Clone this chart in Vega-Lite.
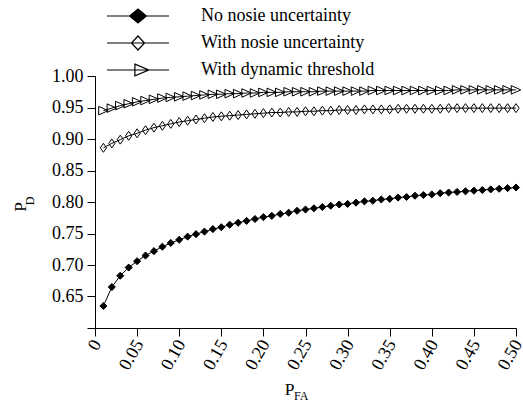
{
  "$schema": "https://vega.github.io/schema/vega-lite/v6.json",
  "width": 421,
  "height": 252,
  "autosize": {"type": "none"},
  "padding": {"left": 95, "top": 76, "right": 7, "bottom": 74},
  "background": "white",
  "config": {
    "view": {"stroke": null},
    "font": "Liberation Serif",
    "axis": {
      "domainColor": "black", "domainWidth": 1, "tickColor": "black", "tickSize": 8, "tickWidth": 1,
      "labelFont": "Liberation Serif", "labelFontSize": 18, "labelColor": "black",
      "titleFont": "Liberation Serif", "titleFontSize": 18, "titleFontWeight": "normal", "titleColor": "black",
      "grid": false, "labelFlush": false, "labelOverlap": false, "labelBound": false
    },
    "legend": {
      "orient": "none", "legendX": 11, "legendY": -68, "padding": 0,
      "symbolSize": 3844, "symbolStrokeWidth": 1.2,
      "labelFont": "Liberation Serif", "labelFontSize": 18, "labelColor": "black", "labelLimit": 400,
      "labelOffset": 31, "rowPadding": 9, "clipHeight": 16, "titlePadding": 0
    }
  },
  "datasets": {
    "curves": [
      {"x": 0.01, "y": 0.635, "s": "No nosie uncertainty"},
      {"x": 0.02, "y": 0.665, "s": "No nosie uncertainty"},
      {"x": 0.03, "y": 0.683, "s": "No nosie uncertainty"},
      {"x": 0.04, "y": 0.696, "s": "No nosie uncertainty"},
      {"x": 0.05, "y": 0.706, "s": "No nosie uncertainty"},
      {"x": 0.06, "y": 0.715, "s": "No nosie uncertainty"},
      {"x": 0.07, "y": 0.722, "s": "No nosie uncertainty"},
      {"x": 0.08, "y": 0.729, "s": "No nosie uncertainty"},
      {"x": 0.09, "y": 0.735, "s": "No nosie uncertainty"},
      {"x": 0.10, "y": 0.740, "s": "No nosie uncertainty"},
      {"x": 0.11, "y": 0.745, "s": "No nosie uncertainty"},
      {"x": 0.12, "y": 0.749, "s": "No nosie uncertainty"},
      {"x": 0.13, "y": 0.753, "s": "No nosie uncertainty"},
      {"x": 0.14, "y": 0.757, "s": "No nosie uncertainty"},
      {"x": 0.15, "y": 0.760, "s": "No nosie uncertainty"},
      {"x": 0.16, "y": 0.764, "s": "No nosie uncertainty"},
      {"x": 0.17, "y": 0.767, "s": "No nosie uncertainty"},
      {"x": 0.18, "y": 0.770, "s": "No nosie uncertainty"},
      {"x": 0.19, "y": 0.773, "s": "No nosie uncertainty"},
      {"x": 0.20, "y": 0.776, "s": "No nosie uncertainty"},
      {"x": 0.21, "y": 0.778, "s": "No nosie uncertainty"},
      {"x": 0.22, "y": 0.781, "s": "No nosie uncertainty"},
      {"x": 0.23, "y": 0.783, "s": "No nosie uncertainty"},
      {"x": 0.24, "y": 0.786, "s": "No nosie uncertainty"},
      {"x": 0.25, "y": 0.788, "s": "No nosie uncertainty"},
      {"x": 0.26, "y": 0.790, "s": "No nosie uncertainty"},
      {"x": 0.27, "y": 0.792, "s": "No nosie uncertainty"},
      {"x": 0.28, "y": 0.794, "s": "No nosie uncertainty"},
      {"x": 0.29, "y": 0.796, "s": "No nosie uncertainty"},
      {"x": 0.30, "y": 0.797, "s": "No nosie uncertainty"},
      {"x": 0.31, "y": 0.799, "s": "No nosie uncertainty"},
      {"x": 0.32, "y": 0.801, "s": "No nosie uncertainty"},
      {"x": 0.33, "y": 0.802, "s": "No nosie uncertainty"},
      {"x": 0.34, "y": 0.804, "s": "No nosie uncertainty"},
      {"x": 0.35, "y": 0.805, "s": "No nosie uncertainty"},
      {"x": 0.36, "y": 0.807, "s": "No nosie uncertainty"},
      {"x": 0.37, "y": 0.808, "s": "No nosie uncertainty"},
      {"x": 0.38, "y": 0.810, "s": "No nosie uncertainty"},
      {"x": 0.39, "y": 0.811, "s": "No nosie uncertainty"},
      {"x": 0.40, "y": 0.812, "s": "No nosie uncertainty"},
      {"x": 0.41, "y": 0.814, "s": "No nosie uncertainty"},
      {"x": 0.42, "y": 0.815, "s": "No nosie uncertainty"},
      {"x": 0.43, "y": 0.816, "s": "No nosie uncertainty"},
      {"x": 0.44, "y": 0.817, "s": "No nosie uncertainty"},
      {"x": 0.45, "y": 0.818, "s": "No nosie uncertainty"},
      {"x": 0.46, "y": 0.819, "s": "No nosie uncertainty"},
      {"x": 0.47, "y": 0.820, "s": "No nosie uncertainty"},
      {"x": 0.48, "y": 0.821, "s": "No nosie uncertainty"},
      {"x": 0.49, "y": 0.822, "s": "No nosie uncertainty"},
      {"x": 0.50, "y": 0.823, "s": "No nosie uncertainty"},
      {"x": 0.01, "y": 0.886, "s": "With nosie uncertainty"},
      {"x": 0.02, "y": 0.893, "s": "With nosie uncertainty"},
      {"x": 0.03, "y": 0.899, "s": "With nosie uncertainty"},
      {"x": 0.04, "y": 0.905, "s": "With nosie uncertainty"},
      {"x": 0.05, "y": 0.909, "s": "With nosie uncertainty"},
      {"x": 0.06, "y": 0.914, "s": "With nosie uncertainty"},
      {"x": 0.07, "y": 0.918, "s": "With nosie uncertainty"},
      {"x": 0.08, "y": 0.921, "s": "With nosie uncertainty"},
      {"x": 0.09, "y": 0.924, "s": "With nosie uncertainty"},
      {"x": 0.10, "y": 0.927, "s": "With nosie uncertainty"},
      {"x": 0.11, "y": 0.929, "s": "With nosie uncertainty"},
      {"x": 0.12, "y": 0.931, "s": "With nosie uncertainty"},
      {"x": 0.13, "y": 0.933, "s": "With nosie uncertainty"},
      {"x": 0.14, "y": 0.935, "s": "With nosie uncertainty"},
      {"x": 0.15, "y": 0.936, "s": "With nosie uncertainty"},
      {"x": 0.16, "y": 0.937, "s": "With nosie uncertainty"},
      {"x": 0.17, "y": 0.938, "s": "With nosie uncertainty"},
      {"x": 0.18, "y": 0.939, "s": "With nosie uncertainty"},
      {"x": 0.19, "y": 0.940, "s": "With nosie uncertainty"},
      {"x": 0.20, "y": 0.941, "s": "With nosie uncertainty"},
      {"x": 0.21, "y": 0.942, "s": "With nosie uncertainty"},
      {"x": 0.22, "y": 0.942, "s": "With nosie uncertainty"},
      {"x": 0.23, "y": 0.943, "s": "With nosie uncertainty"},
      {"x": 0.24, "y": 0.943, "s": "With nosie uncertainty"},
      {"x": 0.25, "y": 0.944, "s": "With nosie uncertainty"},
      {"x": 0.26, "y": 0.944, "s": "With nosie uncertainty"},
      {"x": 0.27, "y": 0.945, "s": "With nosie uncertainty"},
      {"x": 0.28, "y": 0.945, "s": "With nosie uncertainty"},
      {"x": 0.29, "y": 0.946, "s": "With nosie uncertainty"},
      {"x": 0.30, "y": 0.946, "s": "With nosie uncertainty"},
      {"x": 0.31, "y": 0.946, "s": "With nosie uncertainty"},
      {"x": 0.32, "y": 0.947, "s": "With nosie uncertainty"},
      {"x": 0.33, "y": 0.947, "s": "With nosie uncertainty"},
      {"x": 0.34, "y": 0.947, "s": "With nosie uncertainty"},
      {"x": 0.35, "y": 0.947, "s": "With nosie uncertainty"},
      {"x": 0.36, "y": 0.948, "s": "With nosie uncertainty"},
      {"x": 0.37, "y": 0.948, "s": "With nosie uncertainty"},
      {"x": 0.38, "y": 0.948, "s": "With nosie uncertainty"},
      {"x": 0.39, "y": 0.948, "s": "With nosie uncertainty"},
      {"x": 0.40, "y": 0.948, "s": "With nosie uncertainty"},
      {"x": 0.41, "y": 0.948, "s": "With nosie uncertainty"},
      {"x": 0.42, "y": 0.949, "s": "With nosie uncertainty"},
      {"x": 0.43, "y": 0.949, "s": "With nosie uncertainty"},
      {"x": 0.44, "y": 0.949, "s": "With nosie uncertainty"},
      {"x": 0.45, "y": 0.949, "s": "With nosie uncertainty"},
      {"x": 0.46, "y": 0.949, "s": "With nosie uncertainty"},
      {"x": 0.47, "y": 0.949, "s": "With nosie uncertainty"},
      {"x": 0.48, "y": 0.949, "s": "With nosie uncertainty"},
      {"x": 0.49, "y": 0.949, "s": "With nosie uncertainty"},
      {"x": 0.50, "y": 0.949, "s": "With nosie uncertainty"},
      {"x": 0.01, "y": 0.945, "s": "With dynamic threshold"},
      {"x": 0.02, "y": 0.949, "s": "With dynamic threshold"},
      {"x": 0.03, "y": 0.953, "s": "With dynamic threshold"},
      {"x": 0.04, "y": 0.956, "s": "With dynamic threshold"},
      {"x": 0.05, "y": 0.959, "s": "With dynamic threshold"},
      {"x": 0.06, "y": 0.961, "s": "With dynamic threshold"},
      {"x": 0.07, "y": 0.963, "s": "With dynamic threshold"},
      {"x": 0.08, "y": 0.965, "s": "With dynamic threshold"},
      {"x": 0.09, "y": 0.966, "s": "With dynamic threshold"},
      {"x": 0.10, "y": 0.967, "s": "With dynamic threshold"},
      {"x": 0.11, "y": 0.968, "s": "With dynamic threshold"},
      {"x": 0.12, "y": 0.969, "s": "With dynamic threshold"},
      {"x": 0.13, "y": 0.970, "s": "With dynamic threshold"},
      {"x": 0.14, "y": 0.971, "s": "With dynamic threshold"},
      {"x": 0.15, "y": 0.971, "s": "With dynamic threshold"},
      {"x": 0.16, "y": 0.972, "s": "With dynamic threshold"},
      {"x": 0.17, "y": 0.972, "s": "With dynamic threshold"},
      {"x": 0.18, "y": 0.973, "s": "With dynamic threshold"},
      {"x": 0.19, "y": 0.973, "s": "With dynamic threshold"},
      {"x": 0.20, "y": 0.974, "s": "With dynamic threshold"},
      {"x": 0.21, "y": 0.974, "s": "With dynamic threshold"},
      {"x": 0.22, "y": 0.974, "s": "With dynamic threshold"},
      {"x": 0.23, "y": 0.975, "s": "With dynamic threshold"},
      {"x": 0.24, "y": 0.975, "s": "With dynamic threshold"},
      {"x": 0.25, "y": 0.975, "s": "With dynamic threshold"},
      {"x": 0.26, "y": 0.975, "s": "With dynamic threshold"},
      {"x": 0.27, "y": 0.976, "s": "With dynamic threshold"},
      {"x": 0.28, "y": 0.976, "s": "With dynamic threshold"},
      {"x": 0.29, "y": 0.976, "s": "With dynamic threshold"},
      {"x": 0.30, "y": 0.976, "s": "With dynamic threshold"},
      {"x": 0.31, "y": 0.976, "s": "With dynamic threshold"},
      {"x": 0.32, "y": 0.976, "s": "With dynamic threshold"},
      {"x": 0.33, "y": 0.977, "s": "With dynamic threshold"},
      {"x": 0.34, "y": 0.977, "s": "With dynamic threshold"},
      {"x": 0.35, "y": 0.977, "s": "With dynamic threshold"},
      {"x": 0.36, "y": 0.977, "s": "With dynamic threshold"},
      {"x": 0.37, "y": 0.977, "s": "With dynamic threshold"},
      {"x": 0.38, "y": 0.977, "s": "With dynamic threshold"},
      {"x": 0.39, "y": 0.977, "s": "With dynamic threshold"},
      {"x": 0.40, "y": 0.977, "s": "With dynamic threshold"},
      {"x": 0.41, "y": 0.977, "s": "With dynamic threshold"},
      {"x": 0.42, "y": 0.977, "s": "With dynamic threshold"},
      {"x": 0.43, "y": 0.978, "s": "With dynamic threshold"},
      {"x": 0.44, "y": 0.978, "s": "With dynamic threshold"},
      {"x": 0.45, "y": 0.978, "s": "With dynamic threshold"},
      {"x": 0.46, "y": 0.978, "s": "With dynamic threshold"},
      {"x": 0.47, "y": 0.978, "s": "With dynamic threshold"},
      {"x": 0.48, "y": 0.978, "s": "With dynamic threshold"},
      {"x": 0.49, "y": 0.978, "s": "With dynamic threshold"},
      {"x": 0.50, "y": 0.978, "s": "With dynamic threshold"}
    ]
  },
  "layer": [
    {
      "data": {"name": "curves"},
      "encoding": {
        "x": {
          "field": "x", "type": "quantitative",
          "scale": {"domain": [0, 0.5], "nice": false, "zero": false},
          "axis": {
            "values": [0, 0.05, 0.1, 0.15, 0.2, 0.25, 0.3, 0.35, 0.4, 0.45, 0.5],
            "labelExpr": "datum.value == 0 ? '0' : format(datum.value, '.2f')",
            "labelAngle": -60, "labelAlign": "right", "labelBaseline": "middle", "labelPadding": 5, "labelOffset": 2,
            "title": "P", "titleX": 194, "titleY": 66, "titleAlign": "center", "titleBaseline": "alphabetic", "titleAngle": 0, "titleFontSize": 17.5
          }
        },
        "y": {
          "field": "y", "type": "quantitative",
          "scale": {"domain": [0.6, 1.0], "nice": false, "zero": false},
          "axis": {
            "values": [0.6, 0.65, 0.7, 0.75, 0.8, 0.85, 0.9, 0.95, 1.0],
            "labelExpr": "datum.value < 0.62 ? '' : format(datum.value, '.2f')",
            "labelPadding": 4,
            "title": "P", "titleX": -70, "titleY": 130.5, "titleAngle": 270, "titleAlign": "center", "titleBaseline": "alphabetic", "titleFontSize": 17.5
          }
        }
      },
      "layer": [
        {
          "mark": {"type": "line", "color": "black", "strokeWidth": 1},
          "encoding": {"detail": {"field": "s"}, "order": {"field": "x", "type": "quantitative"}}
        },
        {
          "transform": [{"filter": "datum.s == 'No nosie uncertainty'"}],
          "mark": {"type": "point", "shape": "diamond", "filled": true, "fill": "black", "stroke": "black", "strokeWidth": 1, "size": 50, "opacity": 1}
        },
        {
          "transform": [{"filter": "datum.s == 'With nosie uncertainty'"}],
          "mark": {"type": "point", "shape": "M-0.7,0L0,-1L0.7,0L0,1Z", "filled": false, "stroke": "black", "strokeWidth": 1, "size": 80, "opacity": 1}
        },
        {
          "transform": [{"filter": "datum.s == 'With dynamic threshold'"}],
          "mark": {"type": "point", "shape": "M-1,-0.9L1,0L-1,0.9Z", "filled": false, "stroke": "black", "strokeWidth": 1, "size": 90, "opacity": 1}
        },
        {
          "transform": [{"filter": "datum.x < 0"}],
          "mark": {"type": "point", "filled": false, "strokeWidth": 1.2, "opacity": 1},
          "encoding": {
            "shape": {
              "field": "s", "type": "nominal",
              "scale": {
                "domain": ["No nosie uncertainty", "With nosie uncertainty", "With dynamic threshold"],
                "range": [
                  "M-1,0L1,0M0,-0.226L0.27,0L0,0.226L-0.27,0Z",
                  "M-1,0L1,0M0,-0.226L0.21,0L0,0.226L-0.21,0Z",
                  "M-1,0L1,0M-0.1,-0.19L0.35,0L-0.1,0.19Z"
                ]
              },
              "legend": {"title": null}
            },
            "fill": {
              "field": "s", "type": "nominal",
              "scale": {
                "domain": ["No nosie uncertainty", "With nosie uncertainty", "With dynamic threshold"],
                "range": ["black", "white", "white"]
              },
              "legend": {"title": null}
            },
            "stroke": {
              "field": "s", "type": "nominal",
              "scale": {
                "domain": ["No nosie uncertainty", "With nosie uncertainty", "With dynamic threshold"],
                "range": ["black", "black", "black"]
              },
              "legend": {"title": null}
            }
          }
        }
      ]
    },
    {
      "data": {"name": "curves"},
      "transform": [{"filter": "datum.x < 0"}],
      "mark": {"type": "point", "opacity": 0},
      "encoding": {
        "x": {
          "field": "x", "type": "quantitative",
          "scale": {"domain": [0, 0.5], "nice": false, "zero": false},
          "axis": {
            "orient": "top", "labels": false, "ticks": false, "domain": false, "grid": false,
            "title": "FA", "titleFontSize": 12, "titleX": 198.5, "titleY": 323.5, "titleAlign": "left", "titleBaseline": "alphabetic", "titleAngle": 0
          }
        },
        "y": {
          "field": "y", "type": "quantitative",
          "scale": {"domain": [0.6, 1.0], "nice": false, "zero": false},
          "axis": {
            "orient": "right", "labels": false, "ticks": false, "domain": false, "grid": false,
            "title": "D", "titleFontSize": 12, "titleX": -483, "titleY": 124.5, "titleAngle": 270, "titleAlign": "center", "titleBaseline": "alphabetic"
          }
        }
      }
    }
  ],
  "resolve": {
    "scale": {"x": "independent", "y": "independent"},
    "axis": {"x": "independent", "y": "independent"}
  }
}
